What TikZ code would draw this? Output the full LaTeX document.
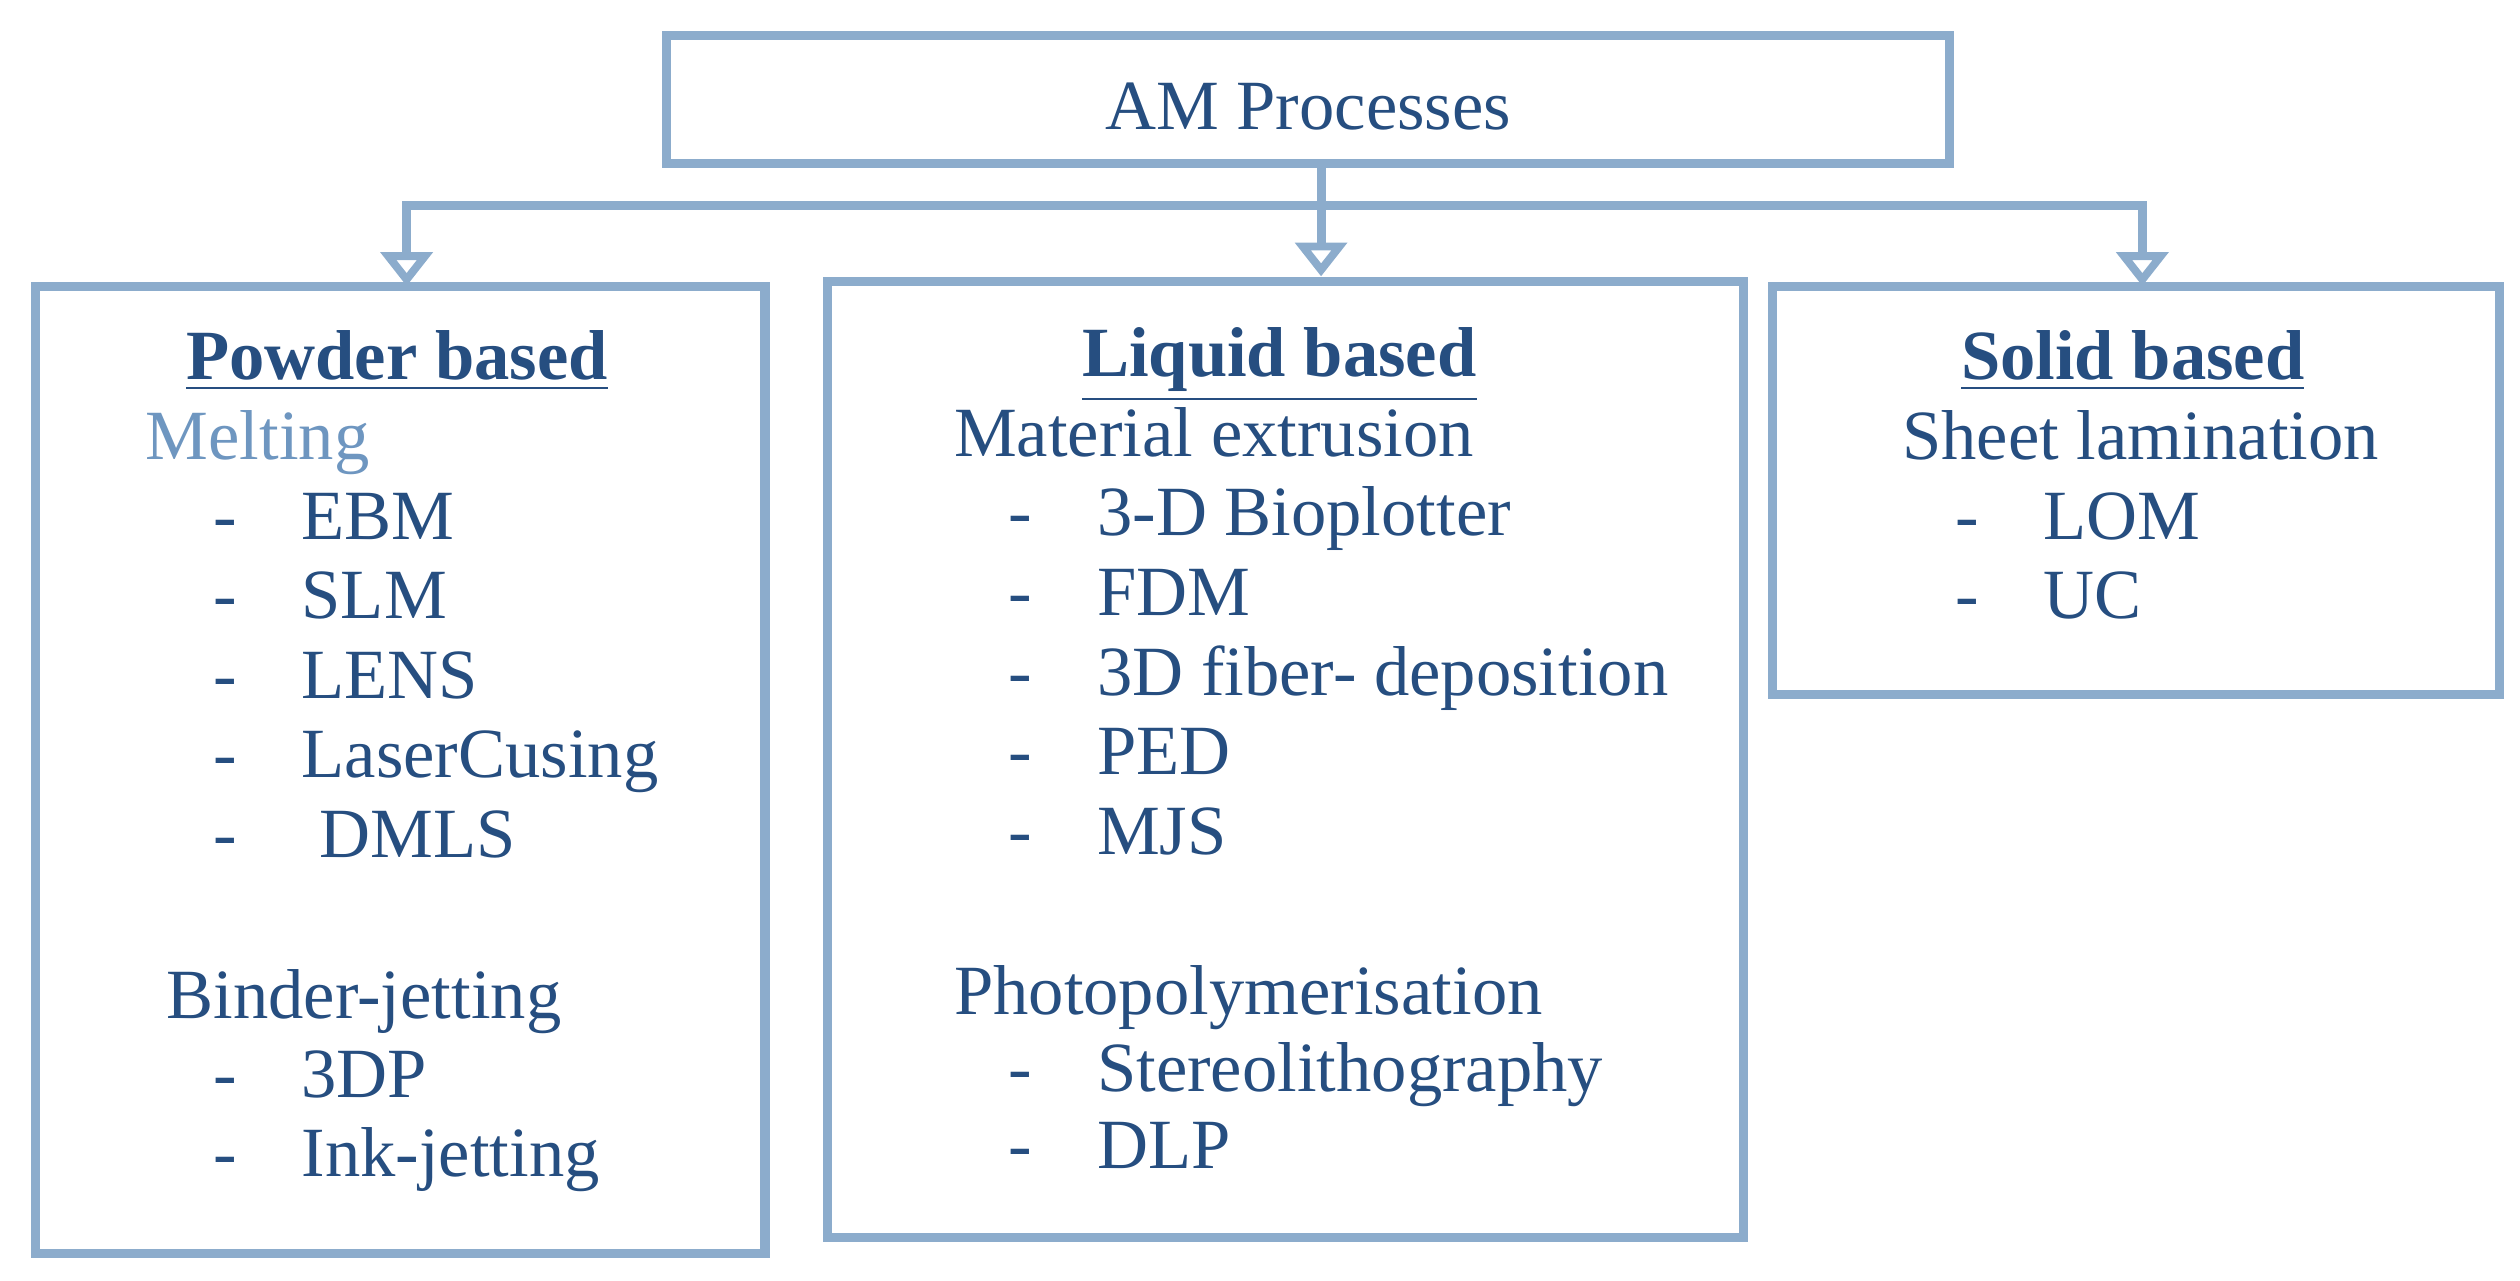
\documentclass[tikz,border=0pt]{standalone}
\usepackage{fontspec}
\setmainfont{Liberation Serif}
\usetikzlibrary{arrows.meta}
\definecolor{boxblue}{RGB}{140,172,204}
\definecolor{txtblue}{RGB}{38,78,128}
\definecolor{subblue}{RGB}{110,150,192}
\tikzset{
  box/.style={draw=boxblue, line width=1.6pt, rectangle, inner sep=0pt},
  conn/.style={draw=boxblue, line width=1.6pt},
  tip/.style={-{Triangle[open, length=6pt, width=9pt, line width=1.4pt]}},
  txt/.style={anchor=base west, inner sep=0pt, text=txtblue, font=\fontsize{12.5}{14}\selectfont},
  head/.style={anchor=base, inner sep=0pt, text=txtblue, font=\fontsize{12.5}{14}\selectfont\bfseries},
  sub/.style={txt, text=subblue}
}
\begin{document}
\begin{tikzpicture}
    \useasboundingbox (0,0) rectangle (15.68,-7.97);

    % Boxes
    \node[box, minimum width=7.98cm, minimum height=0.8cm] (am) at (8.14,-0.62) {};
    \node[text=txtblue, font=\fontsize{12.5}{14}\selectfont] (amtxt) at ([yshift=-0.04cm]am) {AM Processes};
    \node[box, minimum width=4.54cm, minimum height=6.02cm] (powder) at (2.49,-4.79) {};
    \node[box, minimum width=5.70cm, minimum height=5.95cm] (liquid) at (8.00,-4.725) {};
    \node[box, minimum width=4.52cm, minimum height=2.54cm] (solid) at (13.29,-3.05) {};

    % Connectors
    \coordinate (split) at (8.22,-1.28);
    \coordinate (lefttop) at (2.53,-1.78);
    \coordinate (midtop) at (8.22,-1.72);
    \coordinate (righttop) at (13.33,-1.78);
    \draw[conn] (am.south -| split) -- (split);
    \draw[conn, tip] (split) -| (lefttop);
    \draw[conn, tip] (split) -- (midtop);
    \draw[conn, tip] (split) -| (righttop);

    % Powder based
    \node[head] (phead) at (2.47,-2.36) {\underline{Powder based}};
    \node[sub] (melt) at (0.90,-2.86) {Melting};
    \foreach \t [count=\i] in {EBM,SLM,LENS,LaserCusing,\ DMLS}
      \node[txt] (pm\i) at (1.32,-2.86-0.495*\i) {-\hspace{0.92em}\t};
    \node[txt] (bind) at (1.03,-6.34) {Binder-jetting};
    \foreach \t [count=\i] in {3DP,Ink-jetting}
      \node[txt] (pb\i) at (1.32,-6.34-0.49*\i) {-\hspace{0.92em}\t};

    % Liquid based
    \node[head] (lhead) at (7.96,-2.34) {\underline{Liquid based}};
    \node[txt] (extr) at (5.93,-2.84) {Material extrusion};
    \foreach \t [count=\i] in {3-D Bioplotter,FDM,3D fiber- deposition,PED,MJS}
      \node[txt] (le\i) at (6.27,-2.84-0.495*\i) {-\hspace{0.92em}\t};
    \node[txt] (photo) at (5.93,-6.31) {Photopolymerisation};
    \foreach \t [count=\i] in {Stereolithography,DLP}
      \node[txt] (lp\i) at (6.27,-6.31-0.48*\i) {-\hspace{0.92em}\t};

    % Solid based
    \node[head] (shead) at (13.27,-2.36) {\underline{Solid based}};
    \node[txt] (sheet) at (11.83,-2.86) {Sheet lamination};
    \foreach \t [count=\i] in {LOM,UC}
      \node[txt] (ss\i) at (12.16,-2.86-0.495*\i) {-\hspace{0.92em}\t};
\end{tikzpicture}
\end{document}
